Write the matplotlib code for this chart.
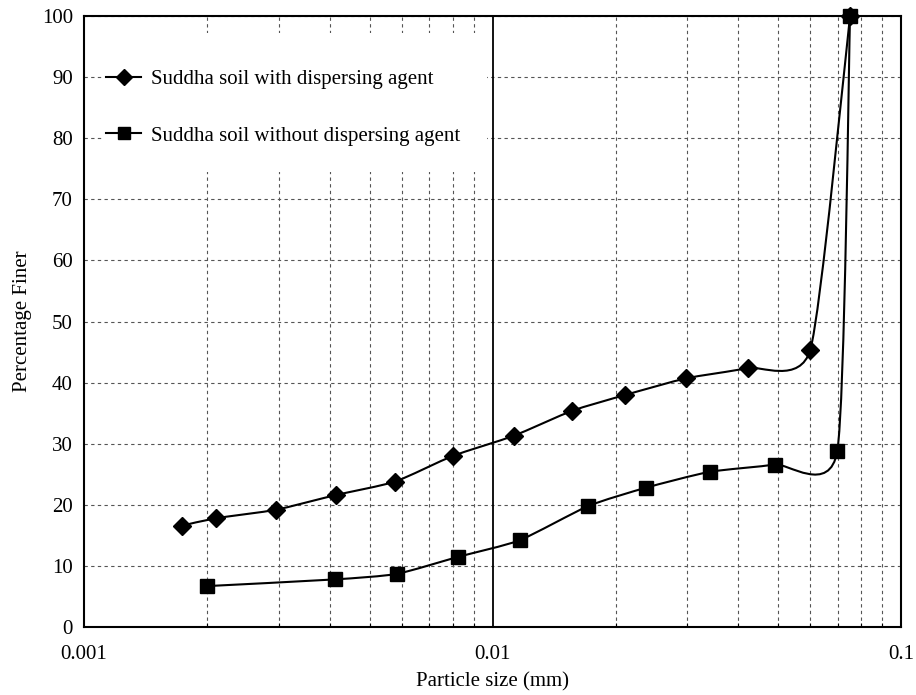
import numpy as np
import matplotlib
matplotlib.use('Agg')
import matplotlib.pyplot as plt
from matplotlib.path import Path
from matplotlib.patches import PathPatch, Rectangle
from matplotlib.lines import Line2D
from matplotlib.ticker import FixedLocator, NullFormatter

# particle size (mm) and percentage finer
size_with = [0.00174, 0.00210, 0.00295, 0.00413, 0.00577, 0.00799, 0.01126,
             0.01567, 0.02115, 0.02973, 0.04210, 0.05996, 0.0750]
finer_with = [16.6, 17.8, 19.2, 21.6, 23.8, 28.0, 31.3, 35.4, 38.0, 40.7, 42.4, 45.4, 100]

size_without = [0.00200, 0.00412, 0.00583, 0.00825, 0.01165, 0.01714, 0.02373,
                0.03398, 0.04905, 0.0698, 0.0750]
finer_without = [6.7, 7.8, 8.7, 11.5, 14.2, 19.8, 22.8, 25.4, 26.6, 28.8, 100]

label_with = 'Suddha soil with dispersing agent'
label_without = 'Suddha soil without dispersing agent'

plt.rcParams['font.family'] = 'Liberation Serif'


def smooth_path(xs, ys, k=0.1):
    # spreadsheet-style smoothed line: cubic bezier through points in log-x space
    lx = np.log10(xs)
    y = np.asarray(ys, float)
    n = len(lx)
    verts = [(xs[0], y[0])]
    codes = [Path.MOVETO]
    for i in range(n - 1):
        a = max(i - 1, 0)
        b = min(i + 2, n - 1)
        c1 = (lx[i] + (lx[i + 1] - lx[a]) * k, y[i] + (y[i + 1] - y[a]) * k)
        c2 = (lx[i + 1] - (lx[b] - lx[i]) * k, y[i + 1] - (y[b] - y[i]) * k)
        verts += [(10 ** c1[0], c1[1]), (10 ** c2[0], c2[1]), (xs[i + 1], y[i + 1])]
        codes += [Path.CURVE4] * 3
    return Path(verts, codes)


fig = plt.figure(figsize=(9.16, 6.95), dpi=100)
ax = fig.add_axes([0.0917, 0.0978, 0.892, 0.879])
ax.set_xscale('log')
ax.set_xlim(0.001, 0.1)
ax.set_ylim(0, 100)

for xs, ys in [(size_with, finer_with), (size_without, finer_without)]:
    ax.add_patch(PathPatch(smooth_path(xs, ys), fill=False, ec='black', lw=1.5,
                           transform=ax.transData, zorder=3))

ax.plot(size_with, finer_with, ls='none', marker='D', ms=9, color='black',
        zorder=4, clip_on=False)
ax.plot(size_without, finer_without, ls='none', marker='s', ms=10, color='black',
        zorder=4, clip_on=False)

# grid
ax.set_yticks(np.arange(0, 101, 10))
ax.set_xticks([0.001, 0.01, 0.1])
ax.set_xticklabels(['0.001', '0.01', '0.1'])
ax.xaxis.set_minor_locator(FixedLocator([m * 10.0 ** e for e in (-3, -2) for m in range(2, 10)]))
ax.xaxis.set_minor_formatter(NullFormatter())
ax.grid(True, axis='y', which='major', ls=(0, (3, 3)), color='#555555', lw=0.8)
ax.grid(True, axis='x', which='minor', ls=(0, (3, 3)), color='#555555', lw=0.8)
ax.axvline(0.01, color='black', lw=1.3, zorder=2)
ax.tick_params(which='major', length=0, labelsize=15)
ax.tick_params(axis='x', which='major', pad=13)
ax.tick_params(axis='y', which='major', pad=8)
ax.tick_params(axis='x', which='minor', direction='in', length=3, width=0.8)

for sp in ax.spines.values():
    sp.set_linewidth(1.5)

ax.set_xlabel('Particle size (mm)', fontsize=15, labelpad=6)
ax.set_ylabel('Percentage Finer', fontsize=15, labelpad=7)

# white panel behind the legend hides the grid
ax.add_patch(Rectangle((0.022, 0.745), 0.471, 0.227, transform=ax.transAxes,
                       facecolor='white', edgecolor='none', zorder=2.5))

handles = [Line2D([], [], color='black', lw=1.5, marker='D', ms=8),
           Line2D([], [], color='black', lw=1.5, marker='s', ms=9)]
leg = ax.legend(handles, [label_with, label_without], loc='upper left',
                bbox_to_anchor=(0.027, 0.912), fontsize=15, frameon=False,
                handlelength=1.7, handletextpad=0.45, labelspacing=1.75,
                borderpad=0, borderaxespad=0)
leg.set_zorder(5)

fig.savefig('out.png', dpi=100)
